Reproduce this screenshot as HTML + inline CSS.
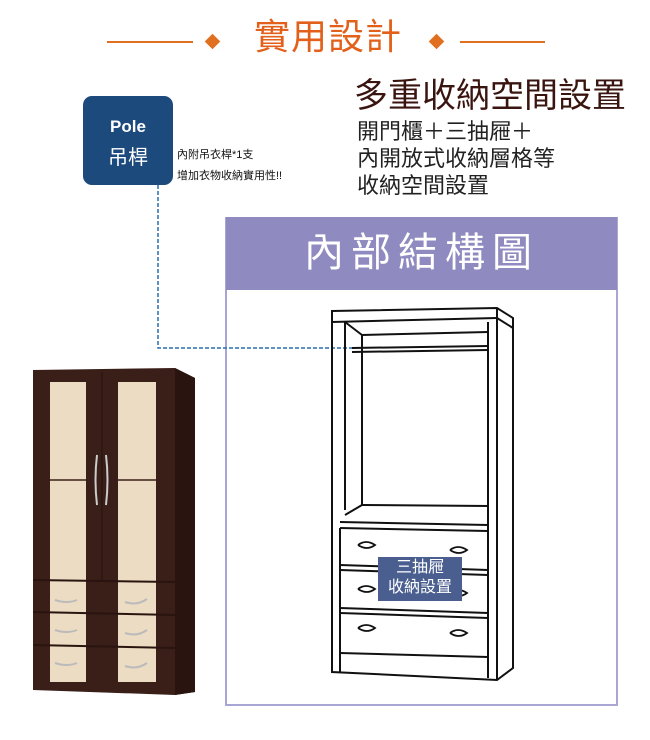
<!DOCTYPE html>
<html><head><meta charset="utf-8"><style>
body{margin:0;width:650px;height:740px;background:#fff;overflow:hidden;position:relative;font-family:"Liberation Sans","Noto Sans CJK TC",sans-serif}
.a{position:absolute;white-space:nowrap}
</style></head><body>
<svg width="650" height="740" style="position:absolute;left:0;top:0">
<line x1="107" y1="42" x2="193" y2="42" stroke="#e07020" stroke-width="2"/>
<rect x="207" y="36" width="11" height="11" fill="#e07020" transform="rotate(45 212.5 41.5)"/>
<rect x="431" y="36" width="11" height="11" fill="#e07020" transform="rotate(45 436.5 41.5)"/>
<line x1="460" y1="42" x2="545" y2="42" stroke="#e07020" stroke-width="2"/>
<rect x="83" y="96" width="90" height="89" rx="9" fill="#1d4a7c"/>
<rect x="226" y="218" width="391" height="487" fill="none" stroke="#a9a6d6" stroke-width="2"/>
<rect x="226" y="217" width="391" height="73" fill="#8f8bc0"/>
<polyline points="158,185 158,348 352,348" fill="none" stroke="#2a6eb0" stroke-width="1.5" stroke-dasharray="4,2"/>
<polygon points="33,370 175,368 195,378 195,692 175,695 33,690" fill="#3a1e18"/>
<polygon points="175,368 195,378 195,692 175,695" fill="#2a140f"/>
<rect x="50" y="382" width="36" height="200" fill="#ecdcc3"/>
<rect x="118" y="382" width="38" height="200" fill="#ecdcc3"/>
<line x1="50" y1="480" x2="86" y2="480" stroke="#3a1e18" stroke-width="1.5"/>
<line x1="118" y1="480" x2="156" y2="480" stroke="#3a1e18" stroke-width="1.5"/>
<rect x="50" y="582" width="36" height="100" fill="#ecdcc3"/>
<rect x="118" y="582" width="38" height="100" fill="#ecdcc3"/>
<line x1="33" y1="580" x2="175" y2="582" stroke="#2a140f" stroke-width="2"/>
<line x1="33" y1="612" x2="175" y2="615" stroke="#2a140f" stroke-width="2"/>
<line x1="33" y1="645" x2="175" y2="648" stroke="#2a140f" stroke-width="2"/>
<line x1="102" y1="372" x2="102" y2="580" stroke="#241210" stroke-width="1"/>
<path d="M97 455 q-3 25 0 50 M106 455 q3 25 0 50" stroke="#ccc" stroke-width="2" fill="none"/>
<g stroke="#bbb" stroke-width="2" fill="none">
<path d="M55 600 q12 4 22 0"/><path d="M125 602 q12 4 22 -3"/>
<path d="M55 630 q12 4 22 0"/><path d="M125 633 q12 4 22 -3"/>
<path d="M55 663 q12 4 22 0"/><path d="M125 666 q12 4 22 -3"/>
</g>
<g stroke="#111" stroke-width="2" fill="none">
<polygon points="332,311 497,308 513,318 513,668 497,680 332,672"/>
<line x1="497" y1="308" x2="497" y2="680"/>
<line x1="332" y1="322" x2="497" y2="318"/>
<line x1="497" y1="318" x2="513" y2="328"/>
<line x1="345" y1="322" x2="345" y2="510"/>
<line x1="345" y1="322" x2="362" y2="335"/>
<line x1="362" y1="335" x2="488" y2="332"/>
<line x1="362" y1="335" x2="362" y2="505"/>
<line x1="488" y1="322" x2="488" y2="505"/>
<line x1="352" y1="348" x2="488" y2="346"/>
<line x1="352" y1="352" x2="488" y2="350"/>
<polyline points="362,505 488,506 488,525"/>
<line x1="345" y1="515" x2="362" y2="505"/>
<line x1="340" y1="522" x2="488" y2="525"/>
<line x1="340" y1="528" x2="488" y2="531"/>
<line x1="340" y1="565" x2="488" y2="570"/>
<line x1="340" y1="570" x2="488" y2="575"/>
<line x1="340" y1="608" x2="488" y2="613"/>
<line x1="340" y1="613" x2="488" y2="618"/>
<line x1="340" y1="653" x2="488" y2="657"/>
<line x1="340" y1="528" x2="340" y2="672"/>
<line x1="488" y1="525" x2="488" y2="678"/>
</g>
<g stroke="#111" stroke-width="1.8" fill="none">
<path d="M358 545 q8 -6 17 0 q-8 6 -17 0"/><path d="M450 550 q8 -6 17 0 q-8 6 -17 0"/>
<path d="M358 589 q8 -6 17 0 q-8 6 -17 0"/><path d="M450 593 q8 -6 17 0 q-8 6 -17 0"/>
<path d="M358 628 q8 -6 17 0 q-8 6 -17 0"/><path d="M450 633 q8 -6 17 0 q-8 6 -17 0"/>
</g>
<rect x="378" y="557" width="84" height="44" fill="#4a5f8f"/>
</svg>
<div class="a" style="left:254px;top:16px;font-size:36px;letter-spacing:1px;color:#e2601a;line-height:42px">實用設計</div>
<div class="a" style="left:83px;top:117px;width:90px;text-align:center;font-size:17px;font-weight:bold;color:#fff">Pole</div>
<div class="a" style="left:83px;top:141px;width:90px;text-align:center;font-size:20px;color:#fff">吊桿</div>
<div class="a" style="left:177px;top:146px;font-size:11px;color:#111">內附吊衣桿*1支</div>
<div class="a" style="left:177px;top:167px;font-size:11px;color:#111">增加衣物收納實用性!!</div>
<div class="a" style="left:354px;top:76px;font-size:34px;color:#3a1510;line-height:40px">多重收納空間設置</div>
<div class="a" style="left:357px;top:118px;font-size:22px;color:#222;line-height:27px">開門櫃＋三抽屜＋<br>內開放式收納層格等<br>收納空間設置</div>
<div class="a" style="left:226px;top:228px;width:391px;text-align:center;font-size:40px;letter-spacing:7px;color:#fff;line-height:50px">內部結構圖</div>
<div class="a" style="left:378px;top:558px;width:84px;text-align:center;font-size:16px;color:#fff;line-height:20px">三抽屜<br>收納設置</div>
</body></html>
